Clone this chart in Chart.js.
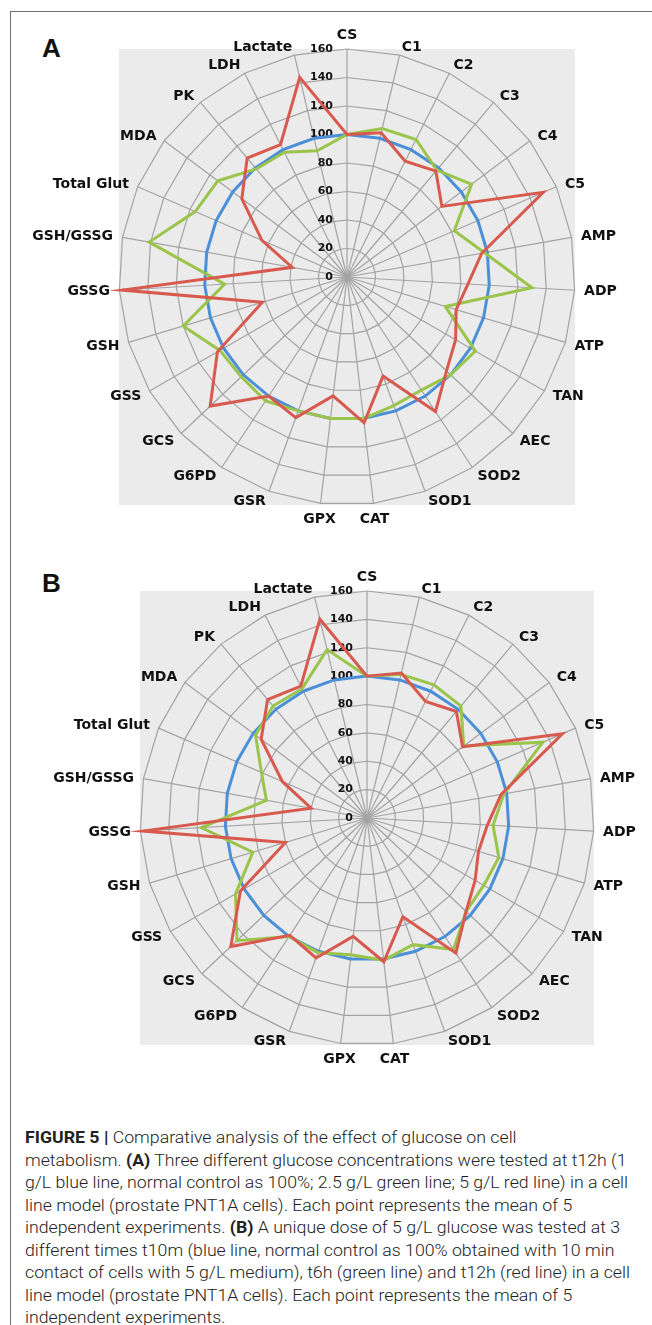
<!DOCTYPE html>
<html>
<head>
<meta charset="utf-8">
<script src="https://cdn.jsdelivr.net/npm/chart.js@4.4.0/dist/chart.umd.min.js"></script>
<style>
  body { margin: 0; background: #fff; width: 652px; height: 1325px; position: relative; overflow: hidden; }
  #frame { position: absolute; left: 10px; top: 11px; right: 0; bottom: 0; border-left: 1px solid #707070; border-top: 1px solid #707070; }
  canvas { position: absolute; left: 0; }
  .letter { position: absolute; font: bold 26px "Liberation Sans", Arial, sans-serif; line-height: 26px; color: #111; }
  #caption { position: absolute; left: 25px; top: 1127px; font-family: Roboto, "Liberation Sans", sans-serif; font-weight: 300;
             font-size: 16px; line-height: 22.5px; color: #222; white-space: nowrap; transform-origin: 0 0; }
  #caption b { font-weight: 700; }
</style>
</head>
<body>
<div id="frame"></div>
<div class="letter" style="left:42px;top:35px">A</div>
<div class="letter" style="left:42px;top:570px">B</div>
<canvas id="chartA" width="652" height="540" style="top:0"></canvas>
<canvas id="chartB" width="652" height="540" style="top:540px"></canvas>
<div id="caption">
  <div><b>FIGURE 5 |</b> Comparative analysis of the effect of glucose on cell</div>
  <div>metabolism. <b>(A)</b> Three different glucose concentrations were tested at t12h (1</div>
  <div><span id="refLine">g/L blue line, normal control as 100%; 2.5 g/L green line; 5 g/L red line) in a cell</span></div>
  <div>line model (prostate PNT1A cells). Each point represents the mean of 5</div>
  <div>independent experiments. <b>(B)</b> A unique dose of 5 g/L glucose was tested at 3</div>
  <div>different times t10m (blue line, normal control as 100% obtained with 10 min</div>
  <div>contact of cells with 5 g/L medium), t6h (green line) and t12h (red line) in a cell</div>
  <div>line model (prostate PNT1A cells). Each point represents the mean of 5</div>
  <div>independent experiments.</div>
</div>
<script>
const labels = ['CS', 'C1', 'C2', 'C3', 'C4', 'C5', 'AMP', 'ADP', 'ATP', 'TAN', 'AEC', 'SOD2', 'SOD1', 'CAT',
  'GPX', 'GSR', 'G6PD', 'GCS', 'GSS', 'GSH', 'GSSG', 'GSH/GSSG', 'Total Glut', 'MDA', 'PK', 'LDH', 'Lactate'];
const tickValues = [0, 20, 40, 60, 80, 100, 120, 140, 160];

// panel A: t12h, glucose 1 g/L (blue), 2.5 g/L (green), 5 g/L (red)
const glucose1 = [100, 100, 100, 100, 100, 100, 100, 100, 100, 100, 100, 100, 100, 100,
  100, 100, 100, 100, 100, 100, 100, 100, 100, 100, 100, 100, 100];
const glucose25 = [100, 107, 108, 98, 109, 82, 98, 130, 72, 104, 100, 95, 96, 100,
  100, 100, 104, 102, 103, 120, 86, 141, 116, 113, 99, 98, 91];
const glucose5 = [100, 104, 91, 97, 83, 150, 96, 85, 80, 88, 96, 113, 74, 103,
  84, 105, 100, 132, 105, 62, 158, 39, 65, 92, 109, 104, 144];

// panel B: 5 g/L at t10m (blue), t6h (green), t12h (red)
const t10m = [100, 100, 100, 100, 100, 100, 100, 100, 100, 100, 100, 100, 100, 100,
  100, 100, 100, 100, 100, 100, 100, 100, 100, 100, 100, 100, 100];
const t6h = [100, 104, 105, 103, 85, 135, 98, 89, 97, 95, 96, 111, 95, 101,
  97, 101, 100, 126, 107, 84, 117, 72, 81, 98, 103, 102, 122];
const t12h = [100, 105, 92, 98, 84, 150, 96, 85, 82, 88, 96, 114, 74, 102,
  84, 105, 99, 132, 103, 60, 158, 40, 65, 93, 109, 104, 144];

const BLUE = '#4a8fd8';
const GREEN = '#9bc44b';
const RED = '#d85a4f';

const radarDecor = {
    id: 'radarDecor',
    beforeDraw(chart) {
        const s = chart.scales.r, c = chart.ctx, r = s.drawingArea;
        c.save();
        c.fillStyle = '#ebebeb';
        c.fillRect(s.xCenter - r, s.yCenter - r, r * 2, r * 2);
        c.restore();
    },
    beforeDatasetsDraw(chart) {
        // value labels sit just left of the vertical spoke
        const s = chart.scales.r, c = chart.ctx;
        c.save();
        c.font = 'bold 11px "DejaVu Sans"';
        c.fillStyle = '#111';
        c.textAlign = 'right';
        c.textBaseline = 'middle';
        s.ticks.forEach(t => {
            c.fillText(String(t.value), s.xCenter - 14, s.yCenter - s.getDistanceFromCenterForValue(t.value));
        });
        c.restore();
    },
    afterDraw(chart) {
        const s = chart.scales.r, c = chart.ctx;
        c.save();
        c.font = 'bold 14px "DejaVu Sans"';
        c.fillStyle = '#111';
        c.textBaseline = 'middle';
        chart.data.labels.forEach((lab, i) => {
            const a = s.getIndexAngle(i);
            const sin = Math.sin(a), cos = Math.cos(a);
            const p = s.getPointPosition(i, s.drawingArea + 9.5);
            let y = p.y + 1;
            if (Math.abs(sin) < 0.15) {
                c.textAlign = 'center';
                y -= 5 * cos;
            } else {
                c.textAlign = sin > 0 ? 'left' : 'right';
            }
            c.fillText(lab, p.x, y);
        });
        c.restore();
    }
};

function makeRadar(id, blue, green, red, pad) {
    return new Chart(document.getElementById(id).getContext('2d'), {
        type: 'radar',
        data: {
            labels: labels,
            datasets: [
                { data: red, borderColor: RED },
                { data: green, borderColor: GREEN },
                { data: blue, borderColor: BLUE }
            ]
        },
        options: {
            responsive: false,
            animation: false,
            devicePixelRatio: 1,
            layout: { padding: pad },
            elements: {
                line: { borderWidth: 3, fill: false, tension: 0 },
                point: { radius: 0, hoverRadius: 0 }
            },
            plugins: {
                legend: { display: false },
                tooltip: { enabled: false }
            },
            scales: {
                r: {
                    min: tickValues[0],
                    max: tickValues[tickValues.length - 1],
                    ticks: { stepSize: 20, display: false },
                    grid: { color: '#a3a3a3', lineWidth: 1.2 },
                    angleLines: { color: '#a3a3a3', lineWidth: 1.2 },
                    pointLabels: { display: false }
                }
            }
        },
        plugins: [radarDecor]
    });
}

makeRadar('chartA', glucose1, glucose25, glucose5, { left: 119, top: 49, right: 77, bottom: 35 });
makeRadar('chartB', t10m, t6h, t12h, { left: 140, top: 51, right: 58, bottom: 35 });

// squeeze the caption so its widest line spans the same width as the printed figure
const cap = document.getElementById('caption');
const w = document.getElementById('refLine').getBoundingClientRect().width;
cap.style.transform = 'scaleX(' + (603 / w) + ')';
</script>
</body>
</html>
